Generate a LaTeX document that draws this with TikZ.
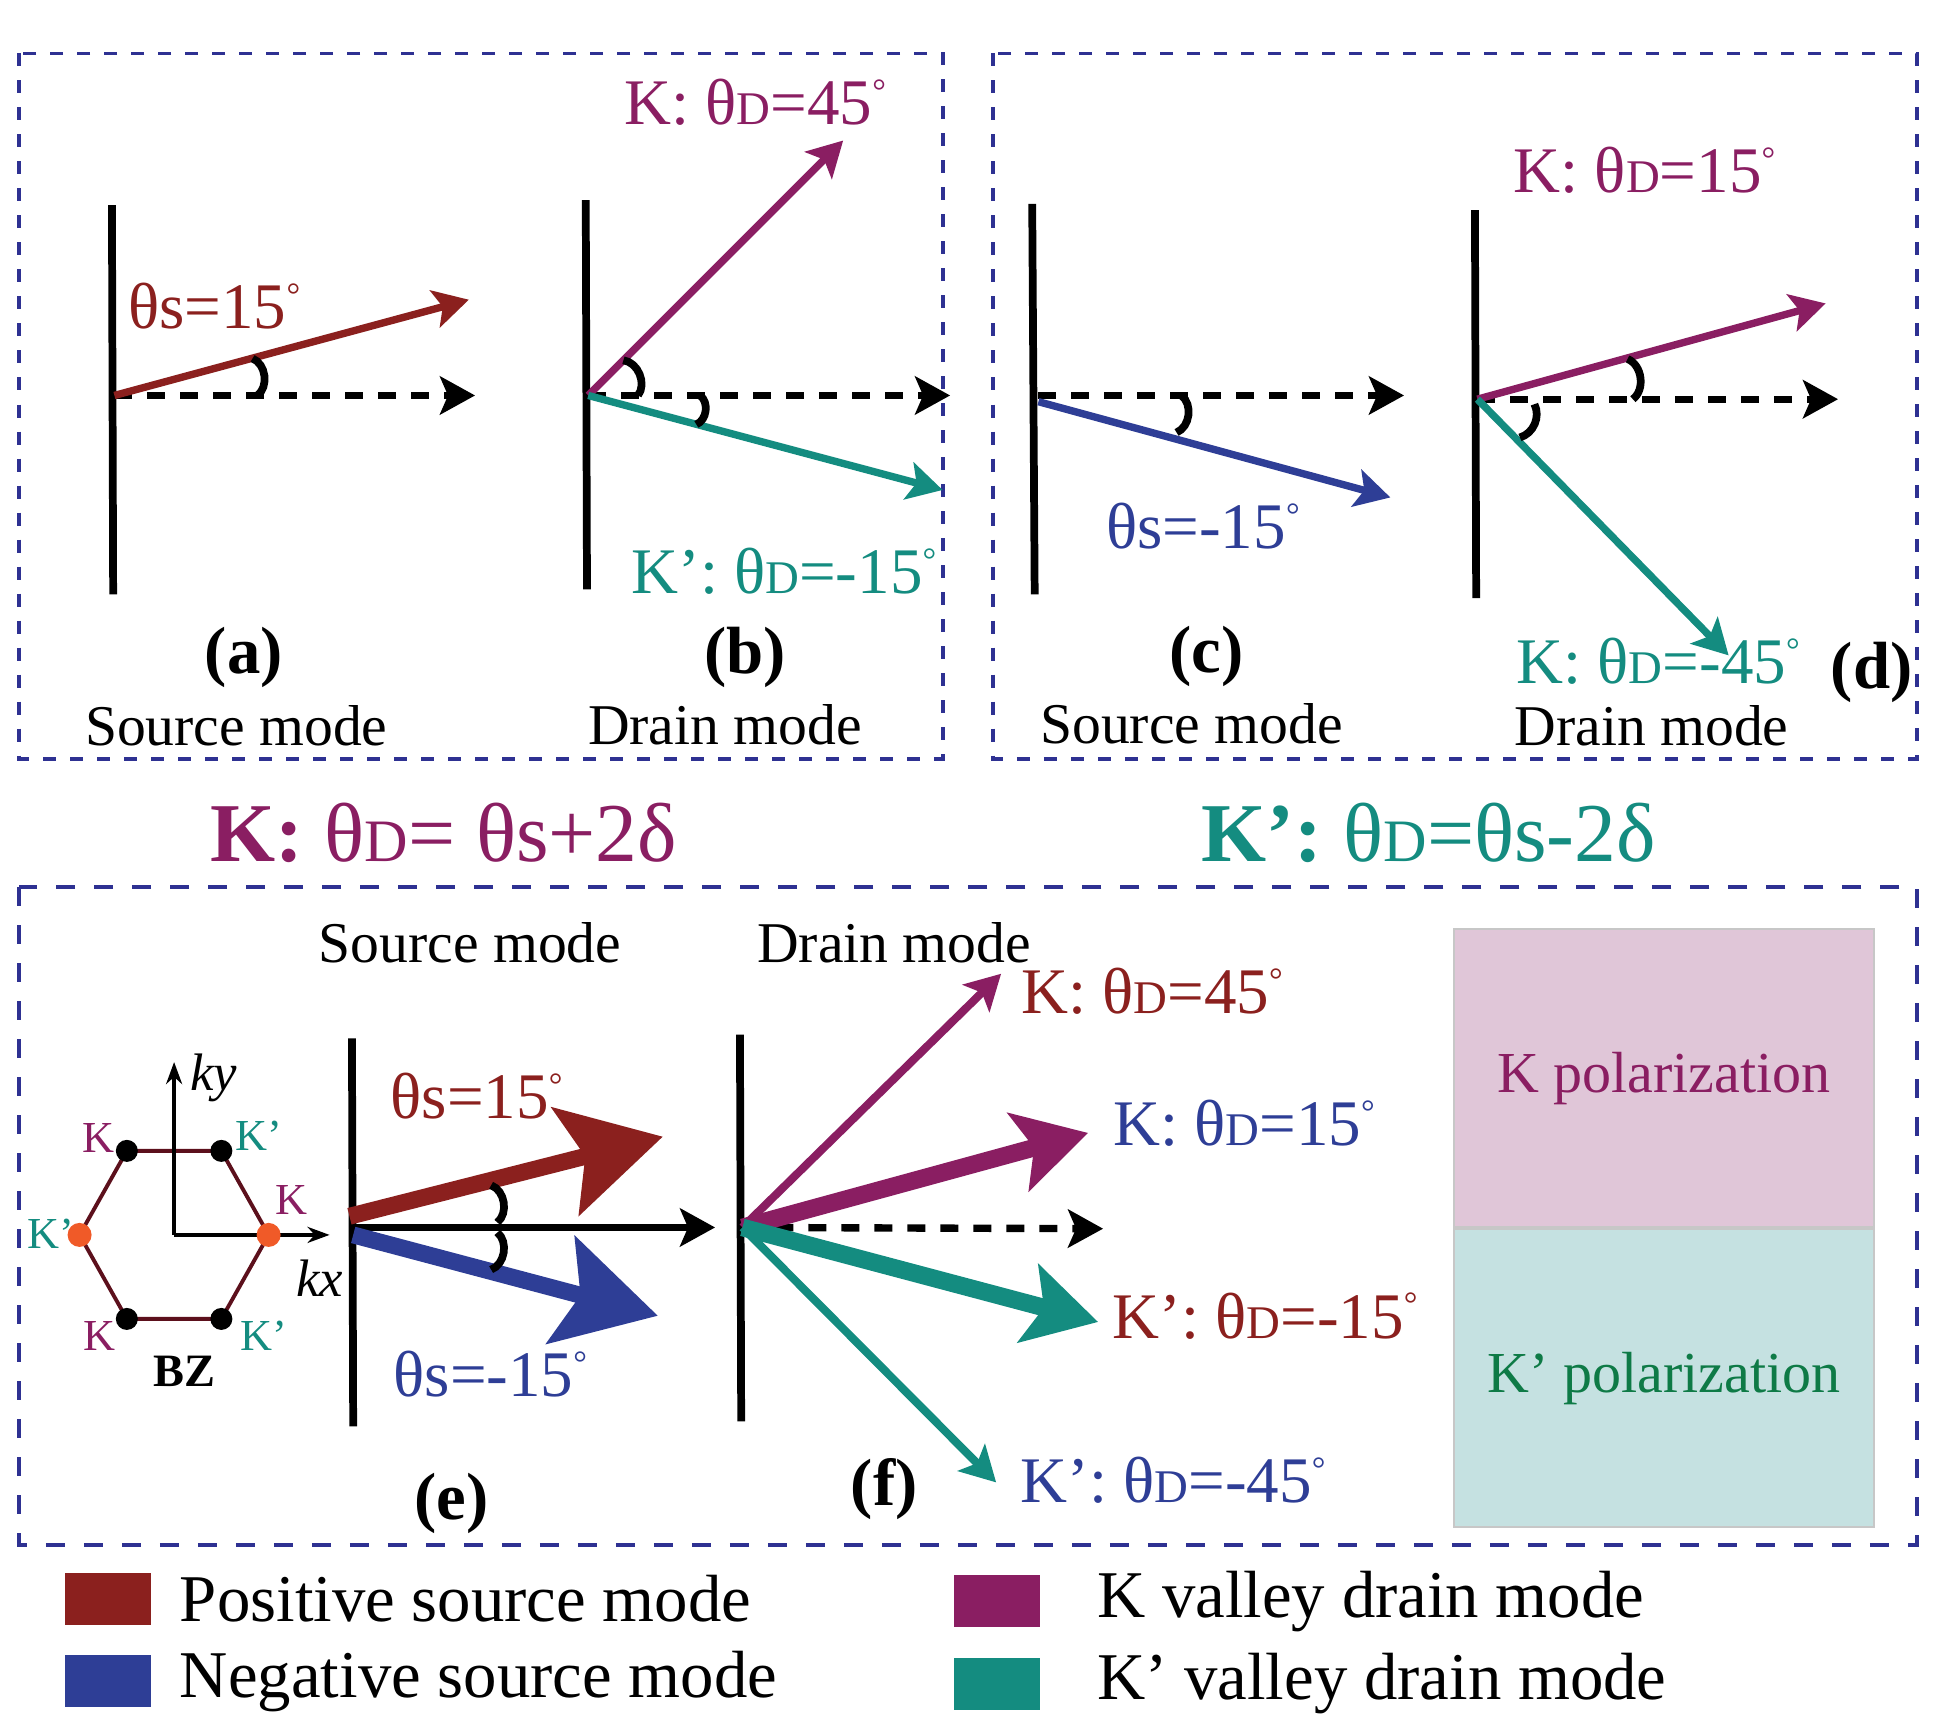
\documentclass[tikz,border=0pt]{standalone}
\usepackage{graphicx}
\usepackage{fontspec}
\setmainfont{Liberation Serif}
\usetikzlibrary{positioning, arrows.meta}

\definecolor{posred}{RGB}{139,32,30}
\definecolor{negblue}{RGB}{46,62,150}
\definecolor{kpurple}{RGB}{138,30,98}
\definecolor{kpteal}{RGB}{20,140,128}
\definecolor{frameblue}{RGB}{46,49,146}
\definecolor{kpink}{RGB}{224,198,216}
\definecolor{kplight}{RGB}{197,225,225}
\definecolor{kpgreen}{RGB}{14,122,70}
\definecolor{bzedge}{RGB}{92,16,28}
\definecolor{bzorange}{RGB}{240,90,40}

\newcommand{\thD}{θ\scalebox{0.72}{D}}
\newcommand{\dgr}{\textsuperscript{\scalebox{0.75}{°}}}

\begin{document}
\begin{tikzpicture}[x=0.012436cm, y=0.012436cm]
    \tikzstyle{panelbox} = [frameblue, line width=1.1pt, dash pattern=on 0.13cm off 0.14cm]
    \tikzstyle{bigbox} = [frameblue, line width=1.1pt, dash pattern=on 0.19cm off 0.19cm]
    \tikzstyle{wall} = [line width=2.2pt]
    \tikzstyle{ray} = [line width=2.1pt, -{Stealth[length=0.35cm,width=0.38cm,inset=0.08cm]}]
    \tikzstyle{refline} = [ray, dash pattern=on 0.18cm off 0.15cm]
    \tikzstyle{bigray} = [line width=4.8pt, -{Stealth[length=1cm,width=1.1cm,inset=0.2cm]}]
    \tikzstyle{midray} = [line width=5pt, -{Stealth[length=0.72cm,width=0.8cm,inset=0.16cm]}]
    \tikzstyle{anglemark} = [line width=2.2pt, bend left=60]
    \tikzstyle{lbl} = [inner sep=0pt, font=\fontsize{16.4}{18}\selectfont]
    \tikzstyle{paneltag} = [inner sep=0pt, font=\fontsize{19}{21}\selectfont\bfseries]
    \tikzstyle{ang} = [inner sep=0pt, font=\fontsize{18.5}{20}\selectfont]
    \tikzstyle{lawlbl} = [inner sep=0pt, font=\fontsize{23.8}{26}\selectfont]
    \tikzstyle{legtxt} = [inner sep=0pt, font=\fontsize{19}{21}\selectfont]
    \tikzstyle{swatch} = [minimum width=0.86cm, minimum height=0.52cm, inner sep=0pt]
    \tikzstyle{bzlbl} = [inner sep=0pt, font=\fontsize{12.6}{14}\selectfont]
    \tikzstyle{kaxis} = [inner sep=0pt, font=\fontsize{15}{17}\selectfont\itshape]
    \tikzstyle{bzdot} = [circle, inner sep=0pt, minimum size=0.22cm]
    \tikzstyle{axis} = [line width=1pt, -{Stealth[length=0.22cm,width=0.16cm]}]
    \tikzstyle{polbox} = [draw=black!22, line width=0.6pt, minimum width=4.2cm, minimum height=2.98cm, font=\fontsize{16.5}{18}\selectfont]

    \useasboundingbox (0,0) rectangle (1568,1395);

    \draw [panelbox] (15.5,1352) rectangle (758,785);
    \draw [panelbox] (798.5,1352) rectangle (1541.5,785);
    \draw [bigbox] (15.3,681.5) rectangle (1541.5,153);

    % (a)
    \coordinate (wa1) at (90,1230);
    \coordinate (wa2) at (91,917);
    \coordinate (oa) at (92,1077);
    \coordinate (ra) at (377,1154);
    \coordinate (da) at (382,1077);
    \draw [wall] (wa1) -- (wa2);
    \draw [refline] (oa) -- (da);
    \draw [ray, posred] (oa) -- (ra);
    \draw [anglemark, shift={(oa)}] (15:115) to (0:115);
    \node (tha) [ang, posred] at (173,1149) {θs=15\dgr};
    \node (taga) [paneltag] at (196,866) {(a)};
    \node (srca) [lbl] at (190,811) {Source mode};

    % (b)
    \coordinate (wb1) at (471,1234);
    \coordinate (wb2) at (472,921);
    \coordinate (ob) at (473,1077);
    \coordinate (kb) at (678,1282);
    \coordinate (db) at (764,1077);
    \coordinate (kpb) at (758,1001);
    \draw [wall] (wb1) -- (wb2);
    \draw [refline] (ob) -- (db);
    \draw [ray, kpurple] (ob) -- (kb);
    \draw [ray, kpteal] (ob) -- (kpb);
    \draw [anglemark, shift={(ob)}] (45:40) to (0:40);
    \draw [anglemark, shift={(ob)}] (0:90) to (-15:90);
    \node (lkb) [ang, kpurple] at (608,1313) {K: \thD=45\dgr};
    \node (lkpb) [ang, kpteal] at (631,936) {K’: \thD=-15\dgr};
    \node (tagb) [paneltag] at (599,866) {(b)};
    \node (drb) [lbl] at (583,812) {Drain mode};

    % (c)
    \coordinate (wc1) at (830,1231);
    \coordinate (wc2) at (832,917);
    \coordinate (oc) at (835,1077);
    \coordinate (oc2) at (835,1072);
    \coordinate (dc) at (1129,1077);
    \coordinate (nc) at (1118,995);
    \draw [wall] (wc1) -- (wc2);
    \draw [refline] (oc) -- (dc);
    \draw [ray, negblue] (oc2) -- (nc);
    \draw [anglemark, shift={(oc)}] (0:115) to (-15:115);
    \node (thc) [ang, negblue] at (968,972) {θs=-15\dgr};
    \node (tagc) [paneltag] at (970,867) {(c)};
    \node (srcc) [lbl] at (958,813) {Source mode};

    % (d)
    \coordinate (wd1) at (1186,1226);
    \coordinate (wd2) at (1187,914);
    \coordinate (od) at (1188,1074);
    \coordinate (kd) at (1468,1151);
    \coordinate (dd) at (1478,1074);
    \coordinate (kpd) at (1390,868);
    \draw [wall] (wd1) -- (wd2);
    \draw [refline] (od) -- (dd);
    \draw [ray, kpurple] (od) -- (kd);
    \draw [ray, kpteal] (od) -- (kpd);
    \draw [anglemark, shift={(od)}] (15:125) to (0:125);
    \draw [anglemark, bend left=50, shift={(od)}] (-5:46) to (-42:46);
    \node (lkd) [ang, kpurple] at (1323,1258) {K: \thD=15\dgr};
    \node (lkpd) [ang, kpteal] at (1334,863) {K: \thD=-45\dgr};
    \node (tagd) [paneltag] at (1505,854) {(d)};
    \node (drd) [lbl] at (1328,811) {Drain mode};

    \node (rulek) [lawlbl, kpurple] at (357,725) {\textbf{K:} \thD= θs+2δ};
    \node (rulekp) [lawlbl, kpteal] at (1149,725) {\textbf{K’:} \thD=θs-2δ};

    % Brillouin zone
    \begin{scope}[shift={(140,402)}]
        \coordinate (bz0) at (0:76 and 78);
        \coordinate (bz1) at (60:76 and 78);
        \coordinate (bz2) at (120:76 and 78);
        \coordinate (bz3) at (180:76 and 78);
        \coordinate (bz4) at (240:76 and 78);
        \coordinate (bz5) at (300:76 and 78);
        \coordinate (bzo) at (0,0);
        \coordinate (kyend) at (0,139);
        \coordinate (kxend) at (125,0);
        \draw [bzedge, line width=1.1pt] (bz0) -- (bz1) -- (bz2) -- (bz3) -- (bz4) -- (bz5) -- cycle;
        \draw [axis] (bzo) -- (kyend);
        \draw [axis] (bzo) -- (kxend);
        \node (v0) [bzdot, fill=bzorange, minimum size=0.24cm] at (bz0) {};
        \node (v1) [bzdot, fill=black] at (bz1) {};
        \node (v2) [bzdot, fill=black] at (bz2) {};
        \node (v3) [bzdot, fill=bzorange, minimum size=0.24cm] at (bz3) {};
        \node (v4) [bzdot, fill=black] at (bz4) {};
        \node (v5) [bzdot, fill=black] at (bz5) {};
    \end{scope}
    \node (ktl) [bzlbl, kpurple] at (79,480) {K};
    \node (kptr) [bzlbl, kpteal] at (208,482) {K’};
    \node (kr) [bzlbl, kpurple] at (234,430) {K};
    \node (kpl) [bzlbl, kpteal] at (41,403) {K’};
    \node (kbl) [bzlbl, kpurple] at (80,321) {K};
    \node (kpbr) [bzlbl, kpteal] at (212,321) {K’};
    \node (bz) [inner sep=0pt, font=\fontsize{13.2}{15}\selectfont\bfseries] at (148,292) {BZ};
    \node (ky) [kaxis] at (172,528) {ky};
    \node (kx) [kaxis] at (257,367) {kx};

    % (e)
    \node (srce) [lbl] at (378,637) {Source mode};
    \coordinate (we1) at (283,560);
    \coordinate (we2) at (284,248);
    \coordinate (oe) at (284,408);
    \coordinate (oeu) at (281,417);
    \coordinate (oed) at (284,402);
    \coordinate (de) at (575,408);
    \coordinate (pe) at (533,481);
    \coordinate (ne) at (529,337);
    \draw [wall] (we1) -- (we2);
    \draw [ray] (oe) -- (de);
    \draw [bigray, posred] (oeu) -- (pe);
    \draw [bigray, negblue] (oed) -- (ne);
    \draw [anglemark, shift={(oe)}] (17:116) to (2:116);
    \draw [anglemark, shift={(oe)}] (-2:116) to (-17:116);
    \node (the) [ang, posred] at (384,514) {θs=15\dgr};
    \node (thne) [ang, negblue] at (395,290) {θs=-15\dgr};
    \node (tage) [paneltag] at (363,186) {(e)};

    % (f)
    \node (drf) [lbl] at (719,637) {Drain mode};
    \coordinate (wf1) at (595,563);
    \coordinate (wf2) at (596,252);
    \coordinate (of) at (597,408);
    \coordinate (df) at (887,407);
    \coordinate (kf45) at (805,612);
    \coordinate (kf15) at (875,484);
    \coordinate (kpf15) at (883,332);
    \coordinate (kpf45) at (801,203);
    \draw [wall] (wf1) -- (wf2);
    \draw [refline] (of) -- (df);
    \draw [ray, kpurple, line width=2.3pt] (of) -- (kf45);
    \draw [ray, kpteal, line width=2.3pt] (of) -- (kpf45);
    \draw [midray, kpurple] (of) -- (kf15);
    \draw [midray, kpteal] (of) -- (kpf15);
    \node (lkf45) [ang, posred] at (927,598) {K: \thD=45\dgr};
    \node (lkf15) [ang, negblue] at (1001,492) {K: \thD=15\dgr};
    \node (lkpf15) [ang, posred] at (1018,337) {K’: \thD=-15\dgr};
    \node (lkpf45) [ang, negblue] at (944,205) {K’: \thD=-45\dgr};
    \node (tagf) [paneltag] at (711,198) {(f)};

    \node (kpol) [polbox, fill=kpink, text=kpurple] at (1338,528) {K polarization};
    \node (kppol) [polbox, fill=kplight, text=kpgreen, below=0pt of kpol] {K’ polarization};

    % legend
    \node (swpos) [swatch, fill=posred] at (86.5,109.5) {};
    \node (swneg) [swatch, fill=negblue, below=0.29cm of swpos] {};
    \node (swk) [swatch, fill=kpurple] at (801.5,107.5) {};
    \node (swkp) [swatch, fill=kpteal, below=0.29cm of swk] {};
    \node (legpos) [legtxt, right=0.28cm of swpos] {Positive source mode};
    \node (legneg) [legtxt, right=0.28cm of swneg] {Negative source mode};
    \node (legk) [legtxt, right=0.56cm of swk] {K valley drain mode};
    \node (legkp) [legtxt, right=0.56cm of swkp] {K’ valley drain mode};
\end{tikzpicture}
\end{document}
